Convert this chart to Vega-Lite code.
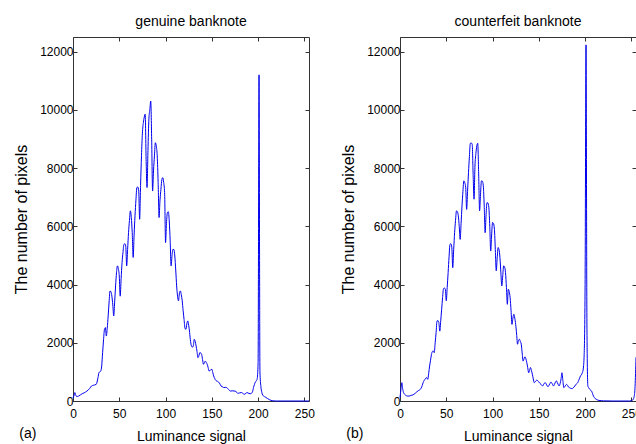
{
  "$schema": "https://vega.github.io/schema/vega-lite/v6.json",
  "padding": {"left": 13, "top": 14, "right": 5, "bottom": 5},
  "background": "white",
  "spacing": 91,
  "bounds": "flush",
  "datasets": {
    "genuine": [
      {"lum":0,"pixels":100},{"lum":1,"pixels":180},{"lum":2,"pixels":290},{"lum":3,"pixels":200},{"lum":4,"pixels":150},{"lum":6,"pixels":170},{"lum":8,"pixels":210},{"lum":10,"pixels":250},{"lum":12,"pixels":280},{"lum":15,"pixels":340},{"lum":18,"pixels":430},{"lum":20,"pixels":515},{"lum":22,"pixels":540},{"lum":25,"pixels":570},{"lum":27,"pixels":800},{"lum":28,"pixels":970},{"lum":30,"pixels":1030},{"lum":31,"pixels":1200},{"lum":32,"pixels":1660},{"lum":33,"pixels":2100},{"lum":34,"pixels":2460},{"lum":35,"pixels":2520},{"lum":36,"pixels":2230},{"lum":37,"pixels":2500},{"lum":38,"pixels":2920},{"lum":39,"pixels":3400},{"lum":40,"pixels":3780},{"lum":41,"pixels":3750},{"lum":42,"pixels":3600},{"lum":43,"pixels":3300},{"lum":44,"pixels":2920},{"lum":45,"pixels":3400},{"lum":46,"pixels":3950},{"lum":47,"pixels":4400},{"lum":48,"pixels":4640},{"lum":49,"pixels":4550},{"lum":50,"pixels":4290},{"lum":51,"pixels":3600},{"lum":52,"pixels":4200},{"lum":53,"pixels":4750},{"lum":54,"pixels":5100},{"lum":55,"pixels":5380},{"lum":56,"pixels":5400},{"lum":57,"pixels":5320},{"lum":58,"pixels":4640},{"lum":59,"pixels":5200},{"lum":60,"pixels":5780},{"lum":61,"pixels":6200},{"lum":62,"pixels":6530},{"lum":63,"pixels":6300},{"lum":64,"pixels":5780},{"lum":65,"pixels":4930},{"lum":66,"pixels":5700},{"lum":67,"pixels":6360},{"lum":68,"pixels":6900},{"lum":69,"pixels":7330},{"lum":70,"pixels":7350},{"lum":71,"pixels":7210},{"lum":72,"pixels":6240},{"lum":73,"pixels":7400},{"lum":74,"pixels":8420},{"lum":75,"pixels":9200},{"lum":76,"pixels":9560},{"lum":77,"pixels":9750},{"lum":78,"pixels":9850},{"lum":79,"pixels":8300},{"lum":80,"pixels":7330},{"lum":81,"pixels":8600},{"lum":82,"pixels":9680},{"lum":83,"pixels":10000},{"lum":84,"pixels":10300},{"lum":85,"pixels":8990},{"lum":86,"pixels":7210},{"lum":87,"pixels":7900},{"lum":88,"pixels":8420},{"lum":89,"pixels":8870},{"lum":90,"pixels":8750},{"lum":91,"pixels":8420},{"lum":92,"pixels":7500},{"lum":93,"pixels":6300},{"lum":94,"pixels":6900},{"lum":95,"pixels":7270},{"lum":96,"pixels":7600},{"lum":97,"pixels":7670},{"lum":98,"pixels":7500},{"lum":99,"pixels":7160},{"lum":100,"pixels":5440},{"lum":101,"pixels":6100},{"lum":102,"pixels":6470},{"lum":103,"pixels":6500},{"lum":104,"pixels":6180},{"lum":105,"pixels":5500},{"lum":106,"pixels":4640},{"lum":107,"pixels":5000},{"lum":108,"pixels":5210},{"lum":109,"pixels":5200},{"lum":110,"pixels":4980},{"lum":111,"pixels":4500},{"lum":112,"pixels":3950},{"lum":113,"pixels":3600},{"lum":114,"pixels":3440},{"lum":115,"pixels":3700},{"lum":116,"pixels":3780},{"lum":117,"pixels":3650},{"lum":118,"pixels":3440},{"lum":119,"pixels":3100},{"lum":120,"pixels":2800},{"lum":121,"pixels":2500},{"lum":122,"pixels":2460},{"lum":123,"pixels":2650},{"lum":124,"pixels":2750},{"lum":125,"pixels":2600},{"lum":126,"pixels":2350},{"lum":127,"pixels":2050},{"lum":128,"pixels":1890},{"lum":129,"pixels":1850},{"lum":130,"pixels":1890},{"lum":131,"pixels":2120},{"lum":132,"pixels":2050},{"lum":133,"pixels":1890},{"lum":134,"pixels":1700},{"lum":135,"pixels":1490},{"lum":136,"pixels":1550},{"lum":137,"pixels":1660},{"lum":138,"pixels":1650},{"lum":139,"pixels":1600},{"lum":140,"pixels":1420},{"lum":141,"pixels":1260},{"lum":142,"pixels":1320},{"lum":143,"pixels":1370},{"lum":144,"pixels":1320},{"lum":145,"pixels":1260},{"lum":146,"pixels":1150},{"lum":147,"pixels":1030},{"lum":148,"pixels":1040},{"lum":149,"pixels":1080},{"lum":150,"pixels":1090},{"lum":151,"pixels":980},{"lum":152,"pixels":860},{"lum":153,"pixels":780},{"lum":154,"pixels":720},{"lum":155,"pixels":690},{"lum":156,"pixels":680},{"lum":157,"pixels":650},{"lum":158,"pixels":630},{"lum":160,"pixels":515},{"lum":162,"pixels":480},{"lum":163,"pixels":460},{"lum":165,"pixels":470},{"lum":166,"pixels":460},{"lum":168,"pixels":400},{"lum":170,"pixels":340},{"lum":172,"pixels":350},{"lum":175,"pixels":340},{"lum":177,"pixels":300},{"lum":178,"pixels":260},{"lum":180,"pixels":280},{"lum":182,"pixels":290},{"lum":184,"pixels":250},{"lum":185,"pixels":230},{"lum":187,"pixels":270},{"lum":188,"pixels":290},{"lum":190,"pixels":260},{"lum":192,"pixels":250},{"lum":194,"pixels":320},{"lum":195,"pixels":460},{"lum":196,"pixels":560},{"lum":197,"pixels":650},{"lum":198,"pixels":690},{"lum":199,"pixels":760},{"lum":200,"pixels":1300},{"lum":201,"pixels":11200},{"lum":202,"pixels":1000},{"lum":203,"pixels":500},{"lum":204,"pixels":300},{"lum":205,"pixels":200},{"lum":206,"pixels":170},{"lum":208,"pixels":130},{"lum":210,"pixels":90},{"lum":212,"pixels":50},{"lum":214,"pixels":20},{"lum":216,"pixels":5},{"lum":220,"pixels":0},{"lum":230,"pixels":0},{"lum":240,"pixels":0},{"lum":250,"pixels":0},{"lum":255,"pixels":0}
    ],
    "counterfeit": [
      {"lum":0,"pixels":115},{"lum":1,"pixels":400},{"lum":2,"pixels":630},{"lum":3,"pixels":400},{"lum":4,"pixels":280},{"lum":5,"pixels":230},{"lum":6,"pixels":200},{"lum":8,"pixels":170},{"lum":10,"pixels":170},{"lum":12,"pixels":195},{"lum":14,"pixels":210},{"lum":15,"pixels":230},{"lum":17,"pixels":280},{"lum":18,"pixels":310},{"lum":20,"pixels":360},{"lum":22,"pixels":400},{"lum":23,"pixels":450},{"lum":24,"pixels":530},{"lum":25,"pixels":630},{"lum":26,"pixels":700},{"lum":27,"pixels":745},{"lum":28,"pixels":790},{"lum":29,"pixels":800},{"lum":30,"pixels":745},{"lum":31,"pixels":950},{"lum":32,"pixels":1200},{"lum":33,"pixels":1400},{"lum":34,"pixels":1600},{"lum":35,"pixels":1700},{"lum":36,"pixels":1720},{"lum":37,"pixels":1660},{"lum":38,"pixels":2000},{"lum":39,"pixels":2350},{"lum":40,"pixels":2750},{"lum":41,"pixels":2760},{"lum":42,"pixels":2690},{"lum":43,"pixels":2400},{"lum":44,"pixels":2750},{"lum":45,"pixels":3150},{"lum":46,"pixels":3550},{"lum":47,"pixels":3860},{"lum":48,"pixels":3880},{"lum":49,"pixels":3840},{"lum":50,"pixels":3440},{"lum":51,"pixels":3900},{"lum":52,"pixels":4410},{"lum":53,"pixels":4950},{"lum":54,"pixels":5380},{"lum":55,"pixels":5400},{"lum":56,"pixels":5270},{"lum":57,"pixels":4580},{"lum":58,"pixels":5200},{"lum":59,"pixels":5780},{"lum":60,"pixels":6200},{"lum":61,"pixels":6530},{"lum":62,"pixels":6500},{"lum":63,"pixels":6360},{"lum":64,"pixels":6000},{"lum":65,"pixels":5550},{"lum":66,"pixels":6100},{"lum":67,"pixels":6700},{"lum":68,"pixels":7200},{"lum":69,"pixels":7560},{"lum":70,"pixels":7500},{"lum":71,"pixels":7330},{"lum":72,"pixels":6580},{"lum":73,"pixels":7200},{"lum":74,"pixels":7840},{"lum":75,"pixels":8400},{"lum":76,"pixels":8850},{"lum":77,"pixels":8860},{"lum":78,"pixels":8820},{"lum":79,"pixels":7800},{"lum":80,"pixels":6930},{"lum":81,"pixels":8070},{"lum":82,"pixels":8500},{"lum":83,"pixels":8760},{"lum":84,"pixels":8850},{"lum":85,"pixels":7800},{"lum":86,"pixels":6530},{"lum":87,"pixels":7100},{"lum":88,"pixels":7560},{"lum":89,"pixels":7550},{"lum":90,"pixels":7390},{"lum":91,"pixels":6700},{"lum":92,"pixels":5780},{"lum":93,"pixels":6400},{"lum":94,"pixels":6810},{"lum":95,"pixels":6800},{"lum":96,"pixels":6640},{"lum":97,"pixels":6000},{"lum":98,"pixels":5150},{"lum":99,"pixels":5700},{"lum":100,"pixels":6130},{"lum":101,"pixels":6100},{"lum":102,"pixels":5900},{"lum":103,"pixels":5200},{"lum":104,"pixels":4470},{"lum":105,"pixels":4900},{"lum":106,"pixels":5270},{"lum":107,"pixels":5200},{"lum":108,"pixels":4920},{"lum":109,"pixels":4400},{"lum":110,"pixels":3950},{"lum":111,"pixels":4300},{"lum":112,"pixels":4640},{"lum":113,"pixels":4600},{"lum":114,"pixels":4410},{"lum":115,"pixels":3900},{"lum":116,"pixels":3320},{"lum":117,"pixels":3840},{"lum":118,"pixels":3750},{"lum":119,"pixels":3550},{"lum":120,"pixels":3100},{"lum":121,"pixels":2630},{"lum":122,"pixels":2850},{"lum":123,"pixels":2980},{"lum":124,"pixels":2850},{"lum":125,"pixels":2630},{"lum":126,"pixels":2300},{"lum":127,"pixels":1950},{"lum":128,"pixels":2080},{"lum":129,"pixels":2120},{"lum":130,"pixels":2050},{"lum":131,"pixels":1950},{"lum":132,"pixels":1650},{"lum":133,"pixels":1370},{"lum":134,"pixels":1450},{"lum":135,"pixels":1520},{"lum":136,"pixels":1450},{"lum":137,"pixels":1320},{"lum":138,"pixels":1150},{"lum":139,"pixels":970},{"lum":140,"pixels":1050},{"lum":141,"pixels":1150},{"lum":142,"pixels":1050},{"lum":143,"pixels":920},{"lum":144,"pixels":760},{"lum":145,"pixels":630},{"lum":146,"pixels":650},{"lum":147,"pixels":700},{"lum":148,"pixels":720},{"lum":149,"pixels":680},{"lum":150,"pixels":650},{"lum":151,"pixels":630},{"lum":152,"pixels":580},{"lum":153,"pixels":540},{"lum":154,"pixels":515},{"lum":155,"pixels":560},{"lum":156,"pixels":610},{"lum":157,"pixels":630},{"lum":158,"pixels":580},{"lum":159,"pixels":520},{"lum":160,"pixels":490},{"lum":161,"pixels":540},{"lum":162,"pixels":600},{"lum":163,"pixels":650},{"lum":164,"pixels":620},{"lum":165,"pixels":560},{"lum":166,"pixels":515},{"lum":167,"pixels":580},{"lum":168,"pixels":650},{"lum":169,"pixels":690},{"lum":170,"pixels":630},{"lum":171,"pixels":560},{"lum":172,"pixels":515},{"lum":173,"pixels":600},{"lum":174,"pixels":750},{"lum":175,"pixels":970},{"lum":176,"pixels":700},{"lum":177,"pixels":460},{"lum":178,"pixels":490},{"lum":179,"pixels":540},{"lum":180,"pixels":570},{"lum":181,"pixels":540},{"lum":182,"pixels":480},{"lum":183,"pixels":460},{"lum":184,"pixels":440},{"lum":185,"pixels":430},{"lum":186,"pixels":420},{"lum":187,"pixels":450},{"lum":188,"pixels":480},{"lum":189,"pixels":515},{"lum":190,"pixels":560},{"lum":191,"pixels":600},{"lum":192,"pixels":630},{"lum":193,"pixels":700},{"lum":194,"pixels":780},{"lum":195,"pixels":860},{"lum":196,"pixels":900},{"lum":197,"pixels":970},{"lum":198,"pixels":1100},{"lum":199,"pixels":1600},{"lum":200,"pixels":4000},{"lum":201,"pixels":12230},{"lum":202,"pixels":2500},{"lum":203,"pixels":515},{"lum":204,"pixels":450},{"lum":205,"pixels":400},{"lum":206,"pixels":370},{"lum":207,"pixels":340},{"lum":208,"pixels":260},{"lum":209,"pixels":170},{"lum":210,"pixels":120},{"lum":211,"pixels":80},{"lum":212,"pixels":60},{"lum":213,"pixels":40},{"lum":215,"pixels":20},{"lum":218,"pixels":10},{"lum":220,"pixels":5},{"lum":230,"pixels":0},{"lum":240,"pixels":0},{"lum":248,"pixels":0},{"lum":250,"pixels":10},{"lum":251,"pixels":20},{"lum":252,"pixels":60},{"lum":253,"pixels":150},{"lum":254,"pixels":500},{"lum":255,"pixels":1500}
    ],
    "panelA": [{"tag": "(a)"}],
    "panelB": [{"tag": "(b)"}]
  },
  "hconcat": [
    {
      "width": 236,
      "height": 364,
      "title": "genuine banknote",
      "layer": [
        {
          "data": {"name": "genuine"},
          "mark": {"type": "line", "color": "#0000ee", "strokeWidth": 1, "interpolate": "monotone"},
          "encoding": {
            "x": {"field": "lum", "type": "quantitative", "scale": {"domain": [0, 255], "nice": false}, "axis": {"orient": "bottom", "title": "Luminance signal", "values": [0, 50, 100, 150, 200, 250], "format": "d"}},
            "y": {"field": "pixels", "type": "quantitative", "scale": {"domain": [0, 12500], "nice": false}, "axis": {"orient": "left", "title": "The number of pixels", "values": [0, 2000, 4000, 6000, 8000, 10000, 12000], "format": "d"}}
          }
        },
        {
          "data": {"name": "genuine"},
          "mark": {"type": "line", "strokeOpacity": 0},
          "encoding": {
            "x": {"field": "lum", "type": "quantitative", "scale": {"domain": [0, 255], "nice": false}, "axis": {"orient": "top", "title": null, "labels": false, "values": [0, 50, 100, 150, 200, 250]}},
            "y": {"field": "pixels", "type": "quantitative", "scale": {"domain": [0, 12500], "nice": false}, "axis": {"orient": "right", "title": null, "labels": false, "values": [0, 2000, 4000, 6000, 8000, 10000, 12000]}}
          }
        },
        {
          "data": {"name": "panelA"},
          "mark": {"type": "text", "fontSize": 14, "font": "Liberation Sans", "color": "#000", "align": "left", "baseline": "middle"},
          "encoding": {
            "x": {"datum": -58, "type": "quantitative", "axis": null},
            "y": {"datum": -1130, "type": "quantitative", "axis": null},
            "text": {"field": "tag"}
          }
        }
      ],
      "resolve": {"axis": {"x": "independent", "y": "independent"}}
    },
    {
      "width": 236,
      "height": 364,
      "title": "counterfeit banknote",
      "layer": [
        {
          "data": {"name": "counterfeit"},
          "mark": {"type": "line", "color": "#0000ee", "strokeWidth": 1, "interpolate": "monotone"},
          "encoding": {
            "x": {"field": "lum", "type": "quantitative", "scale": {"domain": [0, 255], "nice": false}, "axis": {"orient": "bottom", "title": "Luminance signal", "values": [0, 50, 100, 150, 200, 250], "format": "d"}},
            "y": {"field": "pixels", "type": "quantitative", "scale": {"domain": [0, 12500], "nice": false}, "axis": {"orient": "left", "title": "The number of pixels", "values": [0, 2000, 4000, 6000, 8000, 10000, 12000], "format": "d"}}
          }
        },
        {
          "data": {"name": "counterfeit"},
          "mark": {"type": "line", "strokeOpacity": 0},
          "encoding": {
            "x": {"field": "lum", "type": "quantitative", "scale": {"domain": [0, 255], "nice": false}, "axis": {"orient": "top", "title": null, "labels": false, "values": [0, 50, 100, 150, 200, 250]}},
            "y": {"field": "pixels", "type": "quantitative", "scale": {"domain": [0, 12500], "nice": false}, "axis": {"orient": "right", "title": null, "labels": false, "values": [0, 2000, 4000, 6000, 8000, 10000, 12000]}}
          }
        },
        {
          "data": {"name": "panelB"},
          "mark": {"type": "text", "fontSize": 14, "font": "Liberation Sans", "color": "#000", "align": "left", "baseline": "middle"},
          "encoding": {
            "x": {"datum": -58, "type": "quantitative", "axis": null},
            "y": {"datum": -1130, "type": "quantitative", "axis": null},
            "text": {"field": "tag"}
          }
        }
      ],
      "resolve": {"axis": {"x": "independent", "y": "independent"}}
    }
  ],
  "config": {
    "view": {"stroke": null},
    "font": "Liberation Sans",
    "title": {"font": "Liberation Sans", "fontSize": 14, "fontWeight": "normal", "color": "#000", "offset": 8},
    "axis": {
      "grid": false,
      "domainColor": "#333",
      "domainWidth": 1,
      "tickColor": "#333",
      "tickSize": -4,
      "labelColor": "#000",
      "labelFont": "Liberation Sans",
      "labelFontSize": 12,
      "titleFont": "Liberation Sans",
      "titleColor": "#000",
      "titleFontWeight": "normal",
      "labelFlush": false,
      "labelOverlap": false
    },
    "axisX": {"titleFontSize": 14, "titlePadding": 10, "labelPadding": 11},
    "axisY": {"titleFontSize": 16, "titlePadding": 10, "labelPadding": 4}
  }
}
